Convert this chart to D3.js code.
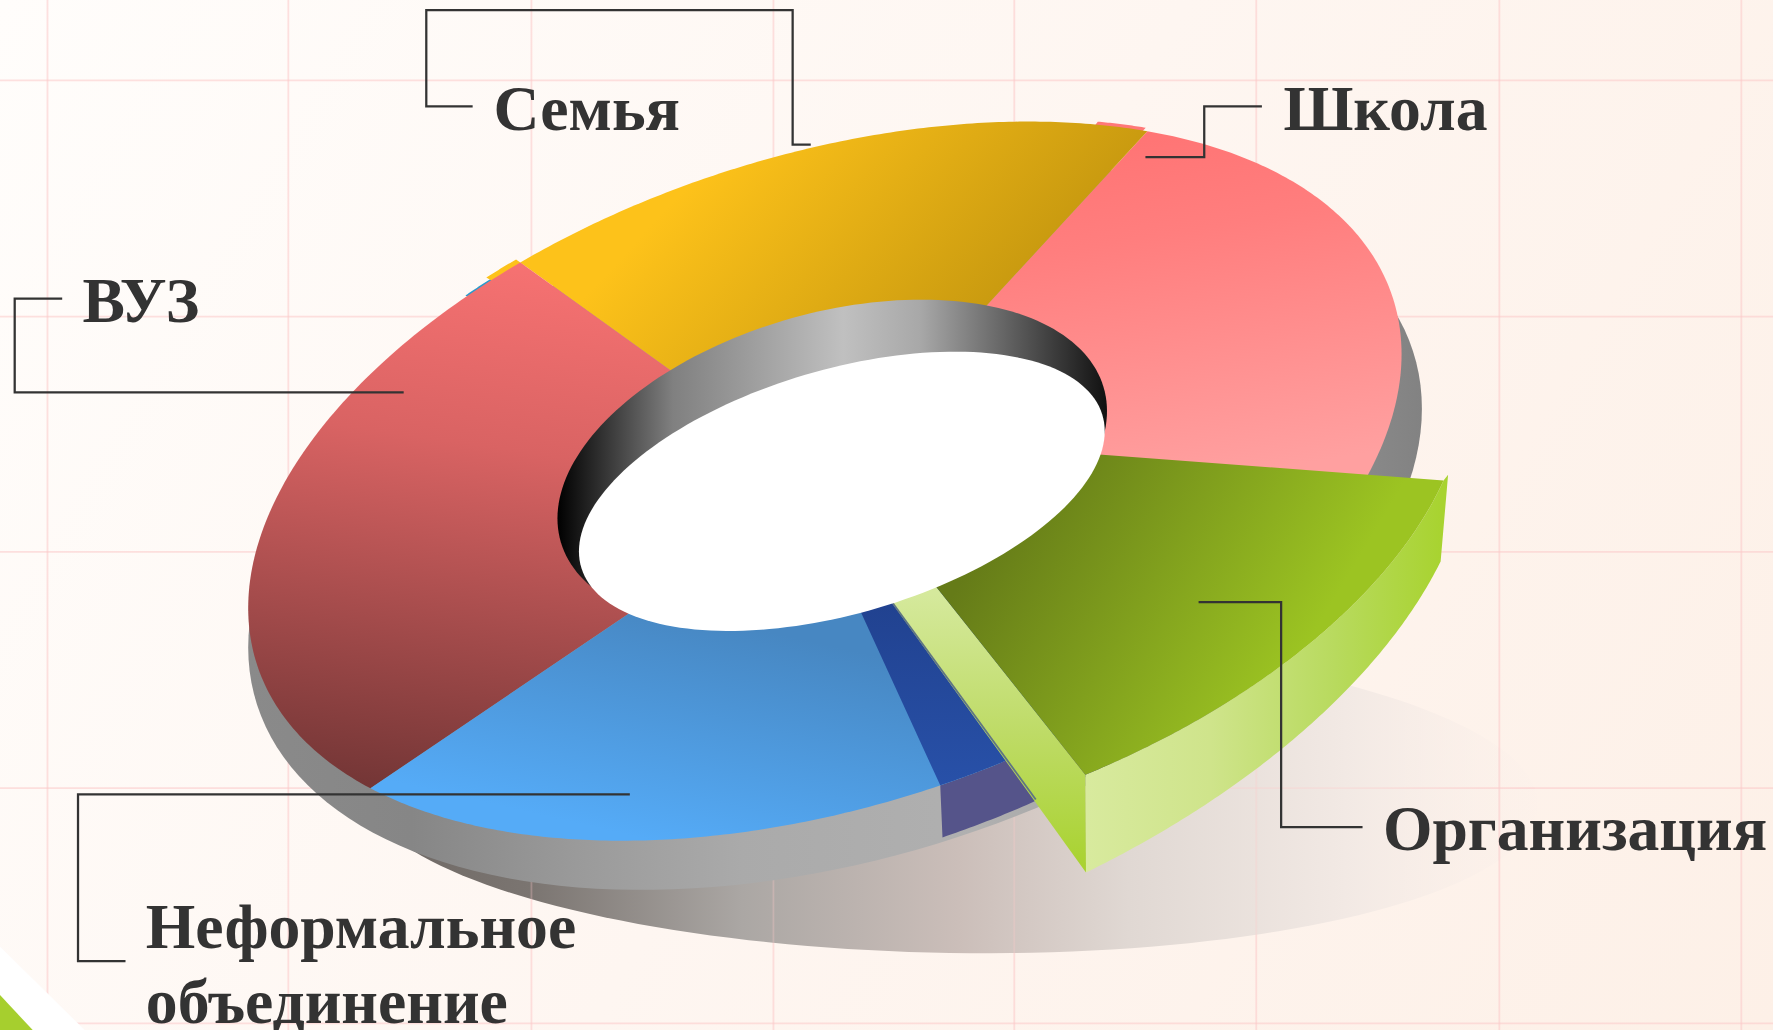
<!DOCTYPE html>
<html><head><meta charset="utf-8">
<style>html,body{margin:0;padding:0;background:#fff}svg{display:block}</style>
<script src="https://cdn.jsdelivr.net/npm/d3@7"></script></head>
<body><div id="c"></div>
<script>
// ---- data ----
const categories = ["Школа","Организация","Неформальное объединение","ВУЗ","Семья"];
const shares = [21.1,14.5,19.4,26.7,18.3];
const sliceColors = ["pink","green","blue","red","gold"];
const gridX = [42,255,470,684,897,1111,1326,1540];
const gridY = [71,280,488,697,905];
// ---- layout (in 1568-wide design units) ----
const W=1773,H=1030,S=1773/1568;
const rad=d=>d*Math.PI/180;
const mk=(cx,cy,X,Y,rho)=>({cx,cy,X,Y,rho,sq:Math.sqrt(1-rho*rho)});
const top_=mk(729.5,425.5,510,318,-.353), low=mk(738.5,467,519,320,-.33);
const rim=mk(736,411,243,146,-.325), hole=mk(744.5,434.5,232.5,123.5,-.43);
const shadow=mk(840,703,520,140,.06);
const gTop=mk(806.5,447.8,490,305,-.353), gLow=mk(709,514,594,369,-.353);
const ep=(e,t,k=1)=>[e.cx+k*e.X*Math.cos(t), e.cy+k*e.Y*(e.rho*Math.cos(t)+e.sq*Math.sin(t))];
const arc=(e,a,b,k=1,n=120)=>d3.range(n+1).map(i=>ep(e,a+(b-a)*i/n,k));
const line=d3.line();
const closed=p=>line(p)+"Z";
const pie=d3.pie().sort(null).startAngle(rad(-56)).endAngle(rad(304))(shares);
const slice=Object.fromEntries(pie.map((d,i)=>[sliceColors[i],d]));

const svg=d3.select("#c").append("svg").attr("width",W).attr("height",H);
const defs=svg.append("defs");
function grad(id,[x1,y1,x2,y2],stops){
  const g=defs.append("linearGradient").attr("id",id).attr("gradientUnits","userSpaceOnUse")
    .attr("x1",x1).attr("y1",y1).attr("x2",x2).attr("y2",y2);
  stops.forEach(s=>g.append("stop").attr("offset",s[0]).attr("stop-color",s[1]).attr("stop-opacity",s[2]===undefined?1:s[2]));
}
grad("bg",[0,0,1568,911],[[0,"#fffdfb"],[.5,"#fef6f1"],[1,"#fdf0e7"]]);
grad("shadow",[355,0,1360,0],[[0,"#706a66"],[.115,"#7b7571"],[.3,"#aba7a4"],[.49,"#cbbeb9"],[.64,"#e0d8d3"],[.83,"#f2e9e4"],[1,"#fbf0ea",.2]]);
grad("grey",[219,0,1258,0],[[0,"#8a8a8a"],[.14,"#868686"],[.28,"#9a9a9a"],[.42,"#aaaaaa"],[.62,"#b0b0b0"],[.8,"#a0a0a0"],[1,"#828282"]]);
grad("pink",[1040,110,1090,420],[[0,"#ff7474"],[.3,"#ff7e7e"],[1,"#ffa0a0"]]);
grad("gold",[640,130,850,325],[[0,"#fdc21a"],[1,"#c6980f"]]);
grad("red",[500,235,430,710],[[0,"#f77272"],[.35,"#d96363"],[1,"#743636"]]);
grad("blue",[620,545,575,743],[[0,"#4787c2"],[1,"#55abf7"]]);
grad("dblue",[0,535,0,700],[[0,"#214290"],[1,"#2851a9"]]);
grad("green",[900,430,1150,580],[[0,"#657b18"],[1,"#9cc422"]]);
grad("gside",[960,0,1275,0],[[0,"#d8ea9e"],[.35,"#cfe48b"],[.7,"#b8da5e"],[1,"#a8d330"]]);
grad("gband",[0,525,0,772],[[0,"#d5e99c"],[.5,"#bedb66"],[1,"#a8d22e"]]);
grad("wall",[493,0,979,0],[[0,"#000"],[.21,"#808080"],[.52,"#c0c0c0"],[.66,"#a8a8a8"],[.81,"#666"],[1,"#111"]]);

const full=d3.range(0,361,2).map(rad);
const shadowPath=closed(full.map(t=>ep(shadow,t)));
defs.append("clipPath").attr("id","shadowClip").append("path").attr("d",shadowPath);

const g=svg.append("g").attr("transform",`scale(${S})`);
function drawGrid(parent,op){
  parent.selectAll(".gx").data(gridX).join("line").attr("class","gx").attr("x1",d=>d).attr("x2",d=>d).attr("y1",0).attr("y2",911)
   .attr("stroke","#fbc9c9").attr("stroke-opacity",op).attr("stroke-width",1.6);
  parent.selectAll(".gy").data(gridY).join("line").attr("class","gy").attr("y1",d=>d).attr("y2",d=>d).attr("x1",0).attr("x2",1568)
   .attr("stroke","#fbc9c9").attr("stroke-opacity",op).attr("stroke-width",1.6);
}
// background
g.append("rect").attr("width",1568).attr("height",911).attr("fill","url(#bg)");
drawGrid(g.append("g"),.55);
// corner decoration
g.append("path").attr("d",closed([[0,837],[75,911],[0,911]])).attr("fill","#fff");
g.append("path").attr("d",closed([[0,880],[29,911],[0,911]])).attr("fill","#a6cf2e");
// shadow and side wall
g.append("path").attr("d",shadowPath).attr("fill","url(#shadow)");
drawGrid(g.append("g").attr("clip-path","url(#shadowClip)"),.3);
g.append("path").attr("d",closed(full.map(t=>ep(low,t)))).attr("fill","url(#grey)");
// purple extruded side below the dark-blue slice
const b0=slice.blue.startAngle;
const dbA=b0+rad(-12), dbB=b0+rad(6.3);
const ext=arc(top_,dbA,dbB,1,40);
g.append("path").attr("d",closed(ext.concat(ext.slice().reverse().map(p=>[p[0]+2,p[1]+46])))).attr("fill","#55548a");
// slices
const sector=(d,id)=>g.append("path").attr("d",closed([[top_.cx,top_.cy],...arc(top_,d.startAngle,d.endAngle)])).attr("fill",`url(#${id})`);
const stub=(a,b,k,fill)=>{const o=arc(top_,a,b,k,24),n=arc(top_,a,b,.985,24).reverse();
  g.append("path").attr("d",closed(o.concat(n))).attr("fill",fill);};
stub(slice.pink.startAngle-rad(6),slice.pink.startAngle-rad(.5),1.008,"#ff7878");
sector(slice.pink,"pink");
sector(slice.gold,"gold");
stub(slice.red.endAngle-rad(6.5),slice.red.endAngle-rad(3),1.004,"#2a9acc");
stub(slice.gold.startAngle-rad(3.5),slice.gold.startAngle,1.014,"#fdc21a");
sector(slice.red,"red");
sector(slice.blue,"blue");
// dark blue band, aimed at a point left of the pie centre
g.append("path").attr("d",closed([[708,425],...arc(top_,dbA,dbB)])).attr("fill","url(#dblue)");
// exploded green slice
const gs=slice.green;
const apex=[720,383];
const tA=gs.startAngle-rad(3.6), tB=gs.endAngle-rad(.4);
const lA=gs.startAngle-rad(2), lB=gs.endAngle-rad(7.2);
const topArc=arc(gTop,tA,tB), lowArc=arc(gLow,lA,lB);
const tip=[topArc[0][0]+4,topArc[0][1]-5];
g.append("path").attr("d",closed([tip,...topArc,...lowArc.slice().reverse()])).attr("fill","url(#gside)");
const bandLeft=[742,468];
g.append("path").attr("d",closed([apex,topArc[topArc.length-1],lowArc[lowArc.length-1],bandLeft])).attr("fill","url(#gband)");
g.append("path").attr("d",closed([apex,...topArc])).attr("fill","url(#green)");
g.append("line").attr("x1",bandLeft[0]).attr("y1",bandLeft[1]).attr("x2",916).attr("y2",707)
 .attr("stroke","#5f7583").attr("stroke-width",1.6);
// hole
g.append("path").attr("d",closed(arc(rim,rad(151),rad(369)))).attr("fill","url(#wall)");
g.append("path").attr("d",closed(full.map(t=>ep(hole,t)))).attr("fill","#fff");
// leaders
const leaders=[
 [[418,94],[377,94],[377,9],[701,9],[701,128],[717,128]],
 [[1116,94],[1065,94],[1065,139],[1013,139]],
 [[55,264],[13,264],[13,347],[357,347]],
 [[1060,532.5],[1133,532.5],[1133,731.5],[1205,731.5]],
 [[557,702.5],[69,702.5],[69,850],[111,850]]];
g.selectAll(".ld").data(leaders).join("path").attr("d",d=>line(d)).attr("fill","none").attr("stroke","#333").attr("stroke-width",2);
// labels
const labels=[["Семья",436.5,115],["Школа",1135,115],["ВУЗ",73,285],["Организация",1223,752],["Неформальное",129,838],["объединение",129,904.5]];
g.selectAll(".lb").data(labels).join("text").text(d=>d[0]).attr("x",d=>d[1]).attr("y",d=>d[2])
 .attr("font-family","'Liberation Serif',serif").attr("font-weight","bold").attr("font-size",56.3).attr("fill","#333");
</script></body></html>
